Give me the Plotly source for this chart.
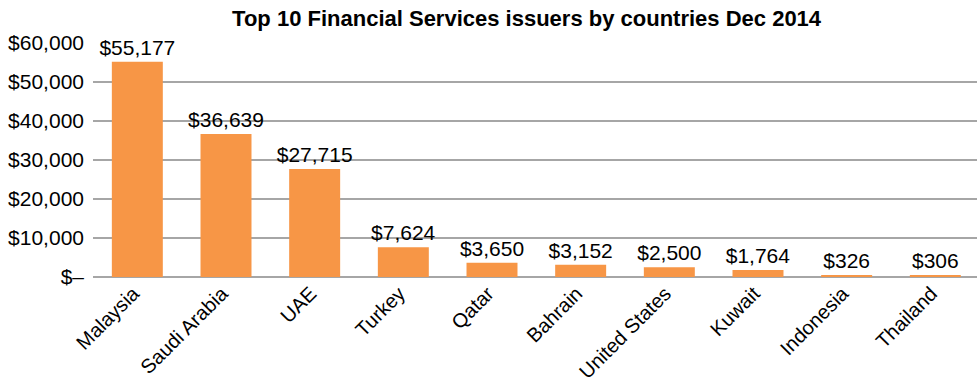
import plotly.graph_objects as go

countries = ["Malaysia", "Saudi Arabia", "UAE", "Turkey", "Qatar", "Bahrain",
             "United States", "Kuwait", "Indonesia", "Thailand"]
issued = [55177, 36639, 27715, 7624, 3650, 3152, 2500, 1764, 326, 306]
tick_vals = [0, 10000, 20000, 30000, 40000, 50000, 60000]
tick_text = ["$–", "$10,000", "$20,000", "$30,000", "$40,000", "$50,000", "$60,000"]

FONT = "Liberation Sans, Arial, Helvetica, sans-serif"

fig = go.Figure(
    go.Bar(
        x=countries,
        y=issued,
        marker=dict(color="#F79646", line=dict(width=0)),
        texttemplate="$%{y:,}",
        textposition="outside",
        constraintext="none",
        textfont=dict(size=21, color="#000000", family=FONT),
        cliponaxis=False,
    )
)

fig.update_layout(
    width=977,
    height=383,
    margin=dict(l=93, r=0, t=43, b=106, autoexpand=False),
    paper_bgcolor="white",
    plot_bgcolor="white",
    bargap=0.425,
    showlegend=False,
    font=dict(family=FONT, size=21, color="#000000"),
    title=dict(
        text="<b>Top 10 Financial Services issuers by countries Dec 2014</b>",
        x=0.539,
        xanchor="center",
        y=0.953,
        yanchor="middle",
        font=dict(size=22, family=FONT, color="#000000"),
    ),
    xaxis=dict(
        range=[-0.5, 9.47],
        tickangle=-45,
        tickfont=dict(size=20),
        showgrid=False,
        showline=False,
        ticks="",
        automargin=False,
        ticklabelshift=-4,
    ),
    yaxis=dict(
        range=[0, 60000],
        tickvals=tick_vals,
        ticktext=tick_text,
        tickfont=dict(size=21),
        showgrid=True,
        gridcolor="#A6A6A6",
        gridwidth=1.5,
        zeroline=True,
        zerolinecolor="#A6A6A6",
        zerolinewidth=1.5,
        showline=False,
        ticks="",
        ticklabelstandoff=8,
        automargin=False,
    ),
)

fig.write_html("out.html")
